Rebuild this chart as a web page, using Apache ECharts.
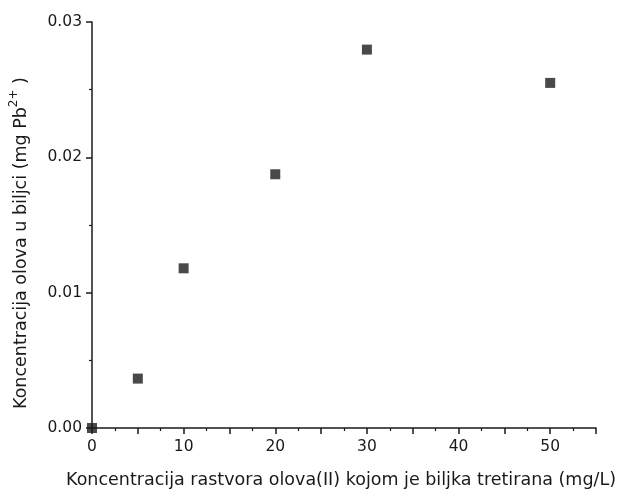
<!DOCTYPE html>
<html>
<head>
<meta charset="utf-8">
<script src="https://cdn.jsdelivr.net/npm/echarts@6/dist/echarts.min.js"></script>
<style>html,body{margin:0;padding:0;background:#fff;}#c{width:625px;height:494px;}</style>
</head>
<body>
<div id="c"></div>
<script>
const xValues = [0, 5, 10, 20, 30, 50];
const yValues = [0, 0.00365, 0.0118, 0.01875, 0.02796, 0.0255];
const xTitle = 'Koncentracija rastvora olova(II) kojom je biljka tretirana (mg/L)';
const yTitleMain = 'Koncentracija olova u biljci (mg Pb';
const yTitleSup = '2+';
const yTitleEnd = ' )';

const points = xValues.map((x, i) => [x, yValues[i]]);
const axisColor = '#1a1a1a';
const font = 'DejaVu Sans, sans-serif';

const chart = echarts.init(document.getElementById('c'));
chart.setOption({
  animation: false,
  backgroundColor: '#fff',
  grid: { left: 90, right: 29, top: 22, bottom: 62, containLabel: false },
  xAxis: {
    type: 'value', min: 0, max: 55, interval: 5,
    name: xTitle, nameLocation: 'middle', nameGap: 43,
    nameTextStyle: { fontFamily: font, fontSize: 17.5, color: axisColor, padding: [0, 6, 0, 0] },
    axisLine: { show: true, lineStyle: { color: axisColor, width: 1.5 } },
    axisTick: { show: true, inside: false, length: 6, lineStyle: { color: axisColor, width: 1.5 } },
    minorTick: { show: true, splitNumber: 2, length: 3, lineStyle: { color: axisColor, width: 1.2 } },
    axisLabel: { fontFamily: font, fontSize: 15.5, color: axisColor, margin: 11,
      formatter: v => (Math.round(v) % 10 === 0 && v <= 50) ? String(v) : '' },
    splitLine: { show: false }
  },
  yAxis: {
    type: 'value', min: 0, max: 0.03, interval: 0.01,
    name: '{m|' + yTitleMain + '}{s|' + yTitleSup + '}{m|' + yTitleEnd + '}',
    nameLocation: 'middle', nameGap: 62, nameRotate: 90,
    nameTextStyle: {
      fontFamily: font, fontSize: 17.5, color: axisColor,
      padding: [0, 36, 0, 0],
      rich: {
        m: { fontFamily: font, fontSize: 17.5, color: axisColor, lineHeight: 22, verticalAlign: 'bottom' },
        s: { fontFamily: font, fontSize: 12, color: axisColor, lineHeight: 22, verticalAlign: 'top' }
      }
    },
    axisLine: { show: true, lineStyle: { color: axisColor, width: 1.5 } },
    axisTick: { show: true, inside: false, length: 6, lineStyle: { color: axisColor, width: 1.5 } },
    minorTick: { show: true, splitNumber: 2, length: 3, lineStyle: { color: axisColor, width: 1.2 } },
    axisLabel: { fontFamily: font, fontSize: 15.5, color: axisColor, margin: 10,
      formatter: v => v.toFixed(2) },
    splitLine: { show: false }
  },
  series: [{
    type: 'scatter',
    data: points,
    symbol: 'rect',
    symbolSize: 10,
    clip: false,
    itemStyle: { color: '#1c1c1c' },
    z: 5
  }]
});
</script>
</body>
</html>
